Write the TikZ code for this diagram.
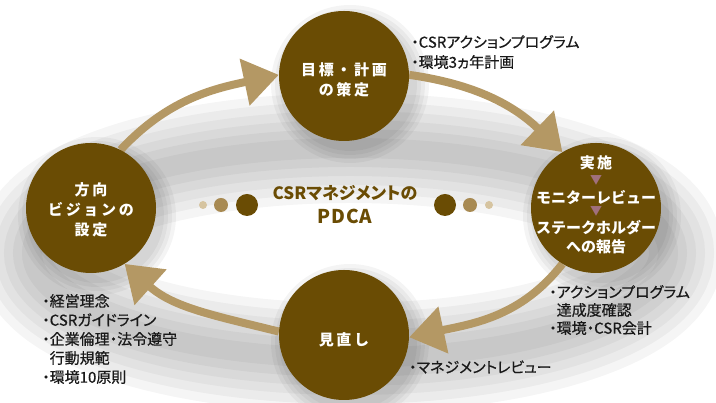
\documentclass[tikz,border=0pt]{standalone}
\usepackage{fontspec}
\usetikzlibrary{arrows.meta}
\newfontfamily\jp[RawFeature=+palt]{Noto Sans CJK JP}
\newfontfamily\jpl[RawFeature=+palt, FakeBold=0.6]{Noto Sans CJK JP}
\newfontfamily\jpf{Noto Sans CJK JP}
\definecolor{cbrown}{RGB}{106,76,4}
\definecolor{ctan}{RGB}{180,152,100}
\definecolor{cmid}{RGB}{168,138,82}
\definecolor{clight}{RGB}{214,196,160}
\definecolor{ctri}{RGB}{160,112,125}
\definecolor{ctxt}{RGB}{25,25,25}
\pgfdeclarelayer{shadow}
\pgfdeclarelayer{arrows}
\pgfsetlayers{shadow,arrows,main}
\begin{document}
\begin{tikzpicture}[x=1pt,y=1pt,
  circ/.style={circle, fill=cbrown, minimum size=130pt, inner sep=0pt},
  ctext/.style={text=white, align=center, inner sep=0pt,
    font=\jpf\bfseries\addfontfeature{LetterSpace=18}\fontsize{15}{20}\selectfont},
  rtext/.style={text=white, align=center, inner sep=0pt,
    font=\jpf\bfseries\fontsize{15}{18}\selectfont},
  tri/.style={text=ctri, inner sep=0pt, font=\jpf\fontsize{12}{12}\selectfont},
  lbl/.style={text=ctxt, align=left, anchor=west, inner sep=0pt},
  arr/.style={draw=ctan, line width=8pt, -{Triangle[length=35pt,width=46pt]}},
  dot/.style={circle, inner sep=0pt},
]
\useasboundingbox (0,0) rectangle (716,403);
% centres
\coordinate (cL) at (91,195);
\coordinate (cT) at (344,327);
\coordinate (cR) at (596,195);
\coordinate (cB) at (344,68);
% soft shadows
\begin{pgfonlayer}{shadow}
  \foreach \w in {110,92,74,56,38,20}
    \draw[line width=\w pt, black, opacity=0.04] (350,150) ellipse [x radius=318, y radius=105];
  \foreach \c in {cL,cT,cR,cB}
    \foreach \r in {2,6,10,14}
      \fill[black, opacity=0.045] ([shift={(6,-8)}]\c) circle [radius=65+\r];
\end{pgfonlayer}
% circles
\node[circ] (L) at (cL) {};
\node[circ] (T) at (cT) {};
\node[circ] (R) at (cR) {};
\node[circ] (B) at (cB) {};
% circle texts
\node[ctext, yshift=-4pt] (Tt) at (T) {目標・計画\\の策定};
\node[ctext, yshift=-2pt] (Lt) at (L) {方向\\ビジョンの\\設定};
\node[ctext, yshift=-5pt] (Bt) at (B) {見直し};
\node[rtext, font=\jpf\bfseries\addfontfeature{LetterSpace=15}\fontsize{15}{18}\selectfont] (R1) at (596,240) {実施};
\node[tri] (R2) at (596,223) {▼};
\node[rtext] (R3) at (596,205) {モニターレビュー};
\node[tri] (R4) at (596,192) {▼};
\node[rtext] (R5) at (596,175) {ステークホルダー};
\node[rtext] (R6) at (596,156) {への報告};
% arrows
\begin{pgfonlayer}{arrows}
  \draw[arr] (L.63) to[out=47, in=192] (T.179);
  \draw[arr] (T.1) to[out=-8, in=136] (R.121);
  \draw[arr] (R.239) to[out=232, in=12] (B.-2);
  \draw[arr] (B.177) to[out=166, in=-42] (L.-59);
\end{pgfonlayer}
% title and dots
\node[text=cbrown, align=center, inner sep=0pt,
  font=\jp\bfseries\fontsize{17}{24}\selectfont] (title) at (345,198) {CSRマネジメントの\\{\fontsize{19}{24}\selectfont\addfontfeature{LetterSpace=5}PDCA}};
\node[dot, fill=clight, minimum size=8pt] (d1) at (203,198) {};
\node[dot, fill=cmid, minimum size=14pt] (d2) at (221,198) {};
\node[dot, fill=cbrown, minimum size=22pt] (d3) at (247,198) {};
\node[dot, fill=cbrown, minimum size=22pt] (d4) at (445,198) {};
\node[dot, fill=cmid, minimum size=14pt] (d5) at (470,198) {};
\node[dot, fill=clight, minimum size=8pt] (d6) at (489,198) {};
% labels
\node[lbl, font=\jpl\fontsize{15}{20}\selectfont] (lt) at (411,351) {・CSRアクションプログラム\\・環境3ヵ年計画};
\node[lbl, font=\jpl\fontsize{15}{18}\selectfont] (lr) at (549,93) {・アクションプログラム\\\phantom{・}達成度確認\\・環境・CSR会計};
\node[lbl, font=\jpl\fontsize{15}{18}\selectfont] (lb) at (409,36) {・マネジメントレビュー};
\node[lbl, font=\jpl\fontsize{15}{19}\selectfont] (ll) at (42,64) {・経営理念\\・CSRガイドライン\\・企業倫理・法令遵守\\\phantom{・}行動規範\\・環境10原則};
\end{tikzpicture}
\end{document}
